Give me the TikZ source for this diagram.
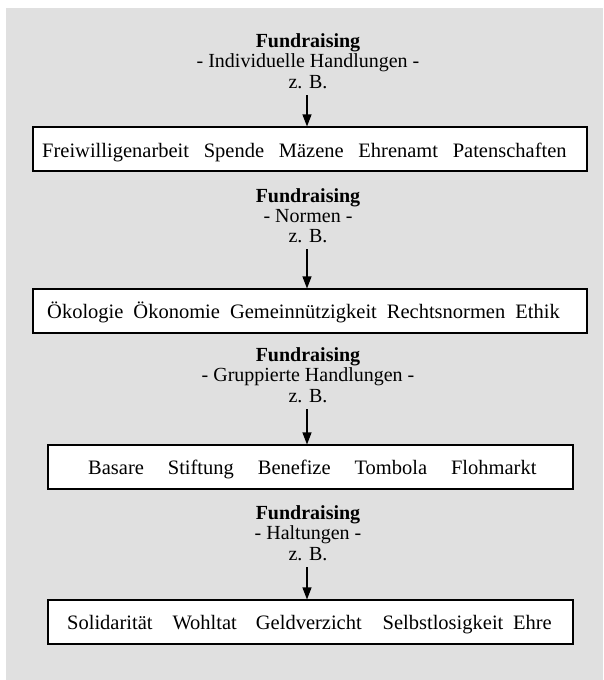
\documentclass[tikz,border=0pt]{standalone}
\usepackage{fontspec}
\setmainfont{Liberation Serif}
\usetikzlibrary{arrows.meta}
\definecolor{bg}{RGB}{224,224,224}
\begin{document}
\begin{tikzpicture}[x=1pt,y=-1pt,
  lbl/.style={font=\fontsize{20}{24}\selectfont, anchor=base, inner sep=0pt},
  ttl/.style={lbl, font=\fontsize{20}{24}\selectfont\bfseries},
  word/.style={font=\fontsize{20.5}{24}\selectfont, anchor=base west, inner sep=0pt},
  itembox/.style={draw=black, line width=1.1pt, fill=white, minimum height=44pt, inner sep=0pt},
  arr/.style={line width=1.1pt, -{Triangle[width=9pt,length=12pt]}}]
\useasboundingbox (0,0) rectangle (603,680);
\fill[white] (0,0) rectangle (603,680);
\fill[bg] (6,8) rectangle (603,680);
% block 1
\node[ttl] (t1) at (308,47) {Fundraising};
\node[lbl] (s1) at (308,67.5) {- Individuelle Handlungen -};
\node[lbl] (z1) at (308,88) {z. B.};
\node[itembox, minimum width=554pt] (b1) at (310,149) {};
\coordinate (a1) at (307,95);
\draw[arr] (a1) -- (a1 |- b1.north);
\node[word] (w11) at (42,157) {Freiwilligenarbeit};
\node[word] (w12) at ([xshift=14.3pt]w11.base east) {Spende};
\node[word] (w13) at ([xshift=14.3pt]w12.base east) {Mäzene};
\node[word] (w14) at ([xshift=14.3pt]w13.base east) {Ehrenamt};
\node[word] (w15) at ([xshift=14.3pt]w14.base east) {Patenschaften};
% block 2
\node[ttl] (t2) at (308,202) {Fundraising};
\node[lbl] (s2) at (308,222) {- Normen -};
\node[lbl] (z2) at (308,242) {z. B.};
\node[itembox, minimum width=554pt] (b2) at (310,311) {};
\coordinate (a2) at (307,249);
\draw[arr] (a2) -- (a2 |- b2.north);
\node[word] (w21) at (47,318.5) {Ökologie};
\node[word] (w22) at ([xshift=9.6pt]w21.base east) {Ökonomie};
\node[word] (w23) at ([xshift=9.6pt]w22.base east) {Gemeinnützigkeit};
\node[word] (w24) at ([xshift=9.6pt]w23.base east) {Rechtsnormen};
\node[word] (w25) at ([xshift=9.6pt]w24.base east) {Ethik};
% block 3
\node[ttl] (t3) at (308,361) {Fundraising};
\node[lbl] (s3) at (308,381.5) {- Gruppierte Handlungen -};
\node[lbl] (z3) at (308,402) {z. B.};
\node[itembox, minimum width=525pt] (b3) at (310.5,467) {};
\coordinate (a3) at (307,409);
\draw[arr] (a3) -- (a3 |- b3.north);
\node[word] (w31) at (88,474.5) {Basare};
\node[word] (w32) at ([xshift=23.5pt]w31.base east) {Stiftung};
\node[word] (w33) at ([xshift=23.5pt]w32.base east) {Benefize};
\node[word] (w34) at ([xshift=23.5pt]w33.base east) {Tombola};
\node[word] (w35) at ([xshift=23.5pt]w34.base east) {Flohmarkt};
% block 4
\node[ttl] (t4) at (308,519) {Fundraising};
\node[lbl] (s4) at (308,539.5) {- Haltungen -};
\node[lbl] (z4) at (308,560) {z. B.};
\node[itembox, minimum width=525pt] (b4) at (310.5,622) {};
\coordinate (a4) at (307,567);
\draw[arr] (a4) -- (a4 |- b4.north);
\node[word] (w41) at (67,629.5) {Solidarität};
\node[word] (w42) at ([xshift=19.5pt]w41.base east) {Wohltat};
\node[word] (w43) at ([xshift=18.6pt]w42.base east) {Geldverzicht};
\node[word] (w44) at ([xshift=20.5pt]w43.base east) {Selbstlosigkeit};
\node[word] (w45) at ([xshift=9.3pt]w44.base east) {Ehre};
\end{tikzpicture}
\end{document}
